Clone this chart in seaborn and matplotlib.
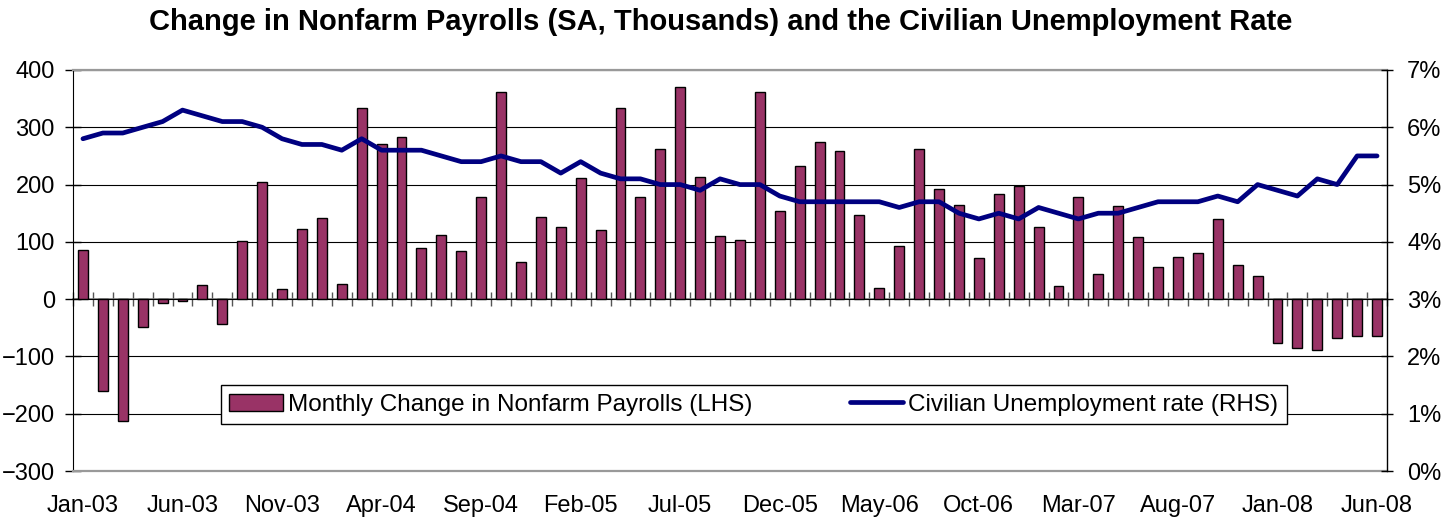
import numpy as np
import pandas as pd
import matplotlib.pyplot as plt
import seaborn as sns

# monthly data, Jan-03 .. Jun-08
months = pd.date_range('2003-01-01', periods=66, freq='MS').strftime('%b-%y').tolist()

payrolls = [85, -160, -213, -49, -6, -3, 24, -43, 102, 204, 18, 123,
            141, 27, 333, 270, 283, 90, 112, 84, 178, 361, 64, 144,
            126, 211, 120, 334, 178, 262, 371, 213, 111, 104, 361, 153,
            232, 275, 259, 147, 20, 93, 262, 192, 165, 71, 183, 198,
            126, 23, 178, 44, 162, 108, 56, 74, 80, 140, 59, 40,
            -77, -86, -89, -68, -65, -65]

unemp = [5.8, 5.9, 5.9, 6.0, 6.1, 6.3, 6.2, 6.1, 6.1, 6.0, 5.8, 5.7,
         5.7, 5.6, 5.8, 5.6, 5.6, 5.6, 5.5, 5.4, 5.4, 5.5, 5.4, 5.4,
         5.2, 5.4, 5.2, 5.1, 5.1, 5.0, 5.0, 4.9, 5.1, 5.0, 5.0, 4.8,
         4.7, 4.7, 4.7, 4.7, 4.7, 4.6, 4.7, 4.7, 4.5, 4.4, 4.5, 4.4,
         4.6, 4.5, 4.4, 4.5, 4.5, 4.6, 4.7, 4.7, 4.7, 4.8, 4.7, 5.0,
         4.9, 4.8, 5.1, 5.0, 5.5, 5.5]

df = pd.DataFrame({'Month': months, 'Payrolls': payrolls, 'Rate': unemp})
df['pos'] = np.arange(len(df))

sns.set_style('white')
plt.rcParams['font.family'] = ['Liberation Sans', 'DejaVu Sans']
plt.rcParams['text.color'] = 'black'
plt.rcParams['xtick.color'] = 'black'
plt.rcParams['ytick.color'] = 'black'

fig = plt.figure(figsize=(14.41, 5.19), dpi=100)
ax = fig.add_axes([73 / 1441, 1 - 471 / 519, 1314 / 1441, 401 / 519])

sns.barplot(data=df, x='Month', y='Payrolls', color='#993366', saturation=1,
            width=0.5, edgecolor='black', linewidth=1.0, ax=ax,
            label='Monthly Change in Nonfarm Payrolls (LHS)')

ax2 = ax.twinx()
sns.lineplot(data=df, x='pos', y='Rate', color='#000080', linewidth=3.4, ax=ax2,
             label='Civilian Unemployment rate (RHS)')

# axes ranges
ax.set_xlim(-0.5, len(df) - 0.5)
ax2.set_xlim(-0.5, len(df) - 0.5)
ax.set_ylim(-300, 400)
ax.set_yticks(range(-300, 401, 100))
ax2.set_ylim(0, 7)
ax2.set_yticks(range(0, 8))
ax2.set_yticklabels([f'{v}%' for v in range(0, 8)])

ax.set_xlabel('')
ax.set_ylabel('')
ax2.set_xlabel('')
ax2.set_ylabel('')

# category labels every 5 months
ax.set_xticks(df['pos'][::5])
ax.set_xticklabels(df['Month'][::5])
ax.tick_params(axis='x', length=0, pad=17, labelsize=17)
ax.tick_params(axis='y', direction='inout', length=12, width=1, pad=7, labelsize=17)
ax2.tick_params(axis='y', direction='inout', length=9, width=1, pad=10, labelsize=17)

# grid
ax.set_axisbelow(True)
ax.yaxis.grid(True, color='black', linewidth=0.8)

# spines
for s in ['top', 'bottom']:
    ax.spines[s].set_color('#999999')
    ax.spines[s].set_linewidth(1.6)
ax.spines['left'].set_color('black')
ax.spines['right'].set_visible(False)
for s in ['top', 'bottom', 'left']:
    ax2.spines[s].set_visible(False)
ax2.spines['right'].set_color('black')
ax2.spines['right'].set_linewidth(1.0)

# category axis crossing at zero, with ticks between bars
sec = ax.secondary_xaxis(300 / 700)
sec.set_xticks(np.arange(len(df) + 1) - 0.5)
sec.tick_params(axis='x', direction='inout', length=10, width=1, colors='#555555',
                labelbottom=False, labeltop=False)
sec.spines['bottom'].set_color('#808080')
sec.spines['bottom'].set_linewidth(1.2)

# legend
h1, l1 = ax.get_legend_handles_labels()
h2, l2 = ax2.get_legend_handles_labels()
if ax.get_legend():
    ax.get_legend().remove()
ax2.legend(h1 + h2, l1 + l2, loc='center', ncol=2, mode='expand',
           bbox_to_anchor=(0.1126, 0.112, 0.811, 0.107),
           fontsize=17.5, frameon=True, fancybox=False, edgecolor='black',
           framealpha=1, handlelength=2.2, handleheight=0.7, handletextpad=0.2,
           borderpad=0.35, borderaxespad=0)
ax2.get_legend().get_frame().set_linewidth(1.0)

fig.suptitle('Change in Nonfarm Payrolls (SA, Thousands) and the Civilian Unemployment Rate',
             fontsize=21, fontweight='bold', y=1 - 22 / 519, va='center')

fig.savefig('out.png', dpi=100)
